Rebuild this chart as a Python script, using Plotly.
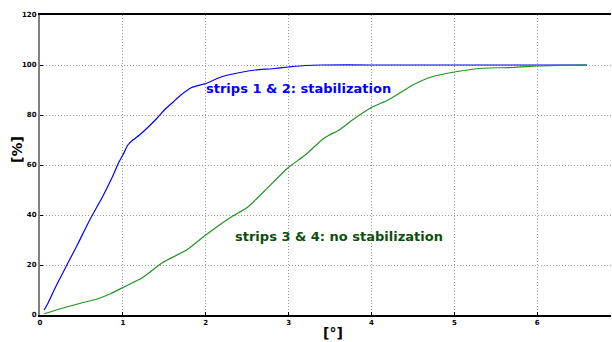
import plotly.graph_objects as go

blue_x = [0.05, 0.1, 0.2, 0.34, 0.45, 0.6, 0.75, 0.87, 0.95, 1.0, 1.06, 1.12, 1.2, 1.3, 1.42, 1.5, 1.6, 1.7, 1.83, 2.0, 2.19, 2.4, 2.6, 2.8, 3.0, 3.2, 3.4, 4.0, 5.0, 6.0, 6.6]
blue_y = [2, 5, 12, 21, 28, 38, 47, 55, 61, 64, 68, 70, 72, 75, 79, 82, 85, 88, 91, 92.6, 95.3, 96.9, 98, 98.5, 99.2, 99.8, 100, 100, 100, 100, 100]

green_x = [0.05, 0.3, 0.5, 0.69, 0.85, 1.0, 1.24, 1.48, 1.77, 2.0, 2.29, 2.5, 2.69, 2.99, 3.2, 3.43, 3.61, 3.77, 4.0, 4.2, 4.34, 4.5, 4.7, 5.0, 5.34, 5.7, 6.0, 6.3, 6.6]
green_y = [0.5, 3, 4.8, 6.4, 8.5, 11, 15, 21, 26, 32, 38.8, 43, 49, 58.8, 64, 70.8, 74, 78, 83, 86, 88.8, 92, 95, 97.2, 98.7, 99, 99.6, 99.9, 100]

x_ticks = [0, 1, 2, 3, 4, 5, 6]
y_ticks = [0, 20, 40, 60, 80, 100, 120]

label_blue = "strips 1 & 2: stabilization"
label_green = "strips 3 & 4: no stabilization"
x_title = "[°]"
y_title = "[%]"

fig = go.Figure()
fig.add_trace(go.Scatter(x=blue_x, y=blue_y, mode="lines", line_shape="spline",
                         line=dict(color="#0000ff", width=1.2, smoothing=0.6), showlegend=False))
fig.add_trace(go.Scatter(x=green_x, y=green_y, mode="lines", line_shape="spline",
                         line=dict(color="#1f951f", width=1.2, smoothing=0.6), showlegend=False))

tickfont = dict(family="DejaVu Sans", size=7, color="black", weight="bold")
fig.update_layout(
    width=612, height=342,
    margin=dict(l=40, r=1, t=15, b=27),
    paper_bgcolor="white", plot_bgcolor="white",
    font=dict(family="DejaVu Sans"),
    xaxis=dict(range=[0, 6.89], tickvals=x_ticks, showgrid=True,
               gridcolor="#9a9a9a", griddash="1px,2px", gridwidth=1,
               showline=True, linecolor="black", linewidth=1.5, mirror=True,
               ticks="inside", ticklen=3, tickcolor="black",
               tickfont=tickfont, zeroline=False),
    yaxis=dict(range=[0, 120], tickvals=y_ticks, showgrid=True,
               gridcolor="#9a9a9a", griddash="1px,2px", gridwidth=1,
               showline=True, linecolor="#808080", linewidth=2,
               ticks="inside", ticklen=3, tickcolor="black",
               tickfont=tickfont, zeroline=False),
    annotations=[
        dict(x=1.98, y=90.8, xref="x", yref="y", text=label_blue, showarrow=False,
             xanchor="left", yanchor="middle",
             font=dict(family="DejaVu Sans", size=13, color="#0000ff", weight="bold")),
        dict(x=2.33, y=31.6, xref="x", yref="y", text=label_green, showarrow=False,
             xanchor="left", yanchor="middle",
             font=dict(family="DejaVu Sans", size=13, color="#0b4f0b", weight="bold")),
        dict(x=333, y=333, xref="paper", yref="paper", text=x_title, showarrow=False,
             xanchor="center", yanchor="middle",
             font=dict(family="DejaVu Sans", size=14, color="black", weight="bold")),
        dict(x=17, y=150, xref="paper", yref="paper", text=y_title, showarrow=False,
             xanchor="center", yanchor="middle", textangle=-90,
             font=dict(family="DejaVu Sans", size=14, color="black", weight="bold")),
    ],
)

# convert pixel positions of axis-title annotations to paper coordinates
pw, ph = 612 - 40 - 1, 342 - 15 - 27
for a in fig.layout.annotations[2:]:
    a.x = (a.x - 40) / pw
    a.y = (342 - 27 - a.y) / ph

fig.write_html("out.html")
